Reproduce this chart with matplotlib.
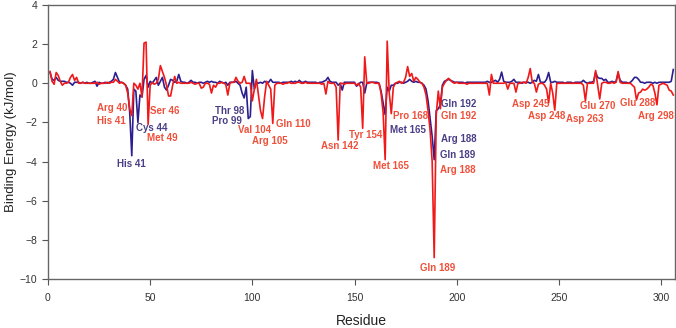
import numpy as np
import matplotlib.pyplot as plt

plt.rcParams['font.family'] = ['Liberation Sans', 'DejaVu Sans']

# residues 1..306
residue = np.arange(1, 307)

# blue series (per residue energy, kJ/mol)
blue = [
    0.55, 0.2, 0.15, 0.3, 0.15, 0.1, 0.1, 0.1, 0.05, 0.05,
    0.0, -0.1, 0.05, 0.05, 0.05, 0.0, 0.05, 0.0, 0.05, 0.0,
    0.0, 0.05, 0.1, -0.15, 0.05, 0.0, 0.0, 0.05, 0.0, 0.05,
    0.1, 0.2, 0.55, 0.3, 0.05, 0.05, 0.0, -0.1, -0.3, -1.5,
    -3.7, -0.3, -0.4, -2.0, -0.6, -0.7, 0.2, 0.4, -0.2, 0.1,
    0.0, 0.15, 0.3, -0.1, 0.1, 0.3, -0.2, -0.35, -0.1, 0.2,
    0.15, 0.05, 0.1, 0.45, 0.1, 0.05, 0.05, 0.0, 0.05, 0.15,
    0.05, 0.05, 0.0, 0.05, 0.05, 0.0, 0.05, 0.1, 0.05, 0.1,
    0.05, 0.05, 0.0, 0.1, 0.05, 0.0, 0.05, -0.1, 0.05, 0.05,
    0.05, 0.1, 0.0, -0.1, -0.5, -0.75, -0.2, -1.8, -1.7, 0.65,
    -0.3, 0.05, 0.0, 0.05, 0.0, 0.1, 0.05, 0.05, 0.2, 0.05,
    0.05, 0.05, 0.05, 0.0, 0.05, 0.05, 0.05, 0.05, 0.1, 0.05,
    0.1, 0.05, 0.15, 0.05, 0.05, 0.1, 0.05, 0.05, 0.05, 0.05,
    0.05, 0.0, 0.05, 0.05, 0.1, 0.15, 0.3, 0.1, 0.05, 0.05,
    0.05, -0.1, 0.0, -0.35, 0.05, 0.05, 0.05, 0.05, 0.05, 0.05,
    -0.15, -0.05, 0.05, 0.05, -0.5, 0.0, 0.05, 0.05, 0.05, 0.05,
    0.05, 0.0, -0.4, -1.0, -1.6, -0.2, -0.4, -0.1, -0.1, 0.0,
    0.0, 0.05, 0.05, 0.0, 0.05, 0.1, 0.2, 0.1, 0.05, 0.1,
    0.05, 0.05, 0.0, -0.1, -0.3, -0.9, -1.8, -2.7, -3.9, -1.4,
    -1.3, -1.1, -0.1, 0.1, 0.15, 0.2, 0.15, 0.1, 0.05, 0.05,
    0.05, 0.05, 0.05, 0.0, 0.05, 0.05, 0.05, 0.05, 0.05, 0.05,
    0.05, 0.05, 0.05, 0.05, 0.1, 0.05, 0.05, 0.1, 0.15, 0.05,
    0.2, 0.57, 0.1, 0.05, 0.05, 0.05, 0.1, 0.2, 0.05, 0.05,
    0.05, 0.0, 0.05, 0.05, 0.05, 0.0, 0.05, 0.15, 0.1, 0.45,
    0.05, 0.05, 0.05, 0.2, 0.55, 0.05, 0.05, 0.1, 0.05, 0.05,
    0.05, 0.05, 0.0, 0.05, 0.05, 0.05, 0.0, 0.05, 0.05, 0.05,
    0.05, 0.15, 0.05, 0.0, 0.05, 0.05, 0.1, 0.55, 0.3, 0.25,
    0.25, 0.15, 0.2, 0.05, 0.05, 0.1, 0.05, 0.1, 0.5, 0.15,
    0.05, 0.05, 0.05, 0.0, 0.05, 0.15, 0.3, 0.3, 0.2, 0.05,
    0.05, 0.0, 0.05, 0.05, 0.05, 0.0, 0.05, 0.0, 0.05, 0.05,
    0.05, 0.05, 0.05, 0.05, 0.1, 0.7,
]

# red series
red = [
    0.6, 0.1, -0.05, 0.55, 0.4, 0.1, -0.1, 0.0, 0.0, 0.05,
    0.3, 0.45, 0.15, 0.3, 0.0, 0.0, 0.05, 0.0, 0.0, 0.0,
    0.0, 0.0, 0.0, 0.05, -0.05, 0.0, 0.0, 0.0, 0.05, 0.0,
    0.05, 0.05, 0.2, 0.1, 0.0, 0.05, 0.0, -0.1, -0.5, -1.3,
    -1.65, 0.0, -0.1, -0.3, 0.0, -0.7, 2.05, 2.1, -2.1, -0.1,
    0.05, -0.05, 0.0, 0.2, 0.9, 0.6, 0.3, -0.1, -0.65, -0.65,
    -0.1, 0.35, 0.0, 0.05, 0.0, 0.0, 0.0, 0.0, 0.0, 0.05,
    0.0, -0.05, 0.0, 0.0, -0.25, -0.2, 0.0, 0.0, -0.05, -0.5,
    -0.1, -0.2, 0.0, 0.0, 0.05, 0.0, -0.05, -0.6, 0.0, 0.05,
    0.05, 0.3, 0.1, 0.0, 0.05, 0.35, 0.0, 0.0, 0.0, -0.9,
    -0.3, 0.2, -0.6, -1.4, -1.8, -0.7, 0.1, -0.1, -0.3, -2.05,
    -0.1, 0.0, 0.0, 0.0, -0.05, 0.0, 0.0, 0.05, 0.0, 0.0,
    0.0, 0.05, 0.05, 0.0, 0.0, 0.05, 0.0, 0.0, 0.0, 0.0,
    0.0, 0.0, 0.0, -0.05, 0.0, -0.55, 0.1, 0.0, 0.0, 0.0,
    -0.2, -2.9, 0.0, 0.0, -0.05, 0.0, 0.0, 0.0, 0.0, 0.0,
    -0.1, 0.0, -0.2, -2.3, 1.35, 0.0, 0.0, 0.05, 0.05, 0.0,
    0.0, 0.0, -0.5, -1.5, -3.9, 2.15, -0.5, -1.55, -0.2, 0.0,
    0.05, 0.1, 0.0, 0.05, 0.3, 0.85, 0.35, 0.5, 0.1, 0.3,
    0.2, 0.05, 0.0, -0.2, -0.6, -1.4, -2.4, -4.0, -8.9, -1.6,
    -0.4, -1.3, -0.2, 0.0, 0.15, 0.25, 0.15, 0.05, 0.0, 0.05,
    0.0, 0.0, 0.0, 0.0, -0.05, 0.0, 0.0, 0.0, 0.0, 0.0,
    0.0, 0.0, 0.0, 0.0, 0.0, -0.6, 0.45, 0.0, 0.0, 0.0,
    0.0, 0.0, 0.0, 0.05, -0.3, 0.0, 0.0, 0.0, -0.45, 0.0,
    0.0, 0.05, 0.05, 0.0, 0.3, 0.75, 0.05, 0.0, -0.45, -0.05,
    0.0, 0.0, -0.1, -0.3, -1.0, 0.0, -0.5, -1.37, 0.0, 0.0,
    0.0, 0.0, 0.0, 0.0, 0.0, 0.0, 0.0, 0.0, 0.0, 0.0,
    0.0, -0.1, -0.9, 0.0, 0.0, 0.0, 0.0, 0.65, -0.1, -0.8,
    0.0, 0.05, 0.05, 0.0, 0.0, 0.05, 0.0, 0.05, 0.6, 0.05,
    0.0, 0.0, 0.0, 0.0, 0.0, -0.1, -0.2, -0.85, -0.5, -0.45,
    -0.3, -0.35, -0.3, -0.2, -0.05, -0.1, -0.5, -1.1, -0.1, -0.05,
    0.0, -0.05, -0.1, -0.35, -0.4, -0.6,
]

# labels: text, x, y, ha
blue_labels = [
    ("His 41", 41, -4.1, "center"),
    ("Cys 44", 43, -2.3, "left"),
    ("Thr 98", 96, -1.43, "right"),
    ("Pro 99", 95, -1.93, "right"),
    ("Met 165", 167.5, -2.4, "left"),
    ("Gln 192", 192.5, -1.07, "left"),
    ("Arg 188", 192.5, -2.87, "left"),
    ("Gln 189", 192, -3.68, "left"),
]
red_labels = [
    ("Arg 40", 38.7, -1.25, "right"),
    ("His 41", 38.2, -1.93, "right"),
    ("Ser 46", 50, -1.43, "left"),
    ("Met 49", 48.5, -2.78, "left"),
    ("Val 104", 109, -2.4, "right"),
    ("Arg 105", 108.5, -2.95, "center"),
    ("Gln 110", 111.7, -2.1, "left"),
    ("Asn 142", 142.8, -3.2, "center"),
    ("Tyr 154", 155.5, -2.65, "center"),
    ("Pro 168", 169, -1.65, "left"),
    ("Met 165", 167.6, -4.23, "center"),
    ("Gln 192", 192.3, -1.65, "left"),
    ("Arg 188", 192, -4.43, "left"),
    ("Gln 189", 190.5, -9.45, "center"),
    ("Asp 245", 236, -1.07, "center"),
    ("Asp 248", 244, -1.65, "center"),
    ("Asp 263", 262.8, -1.82, "center"),
    ("Glu 270", 269, -1.18, "center"),
    ("Glu 288", 288.5, -1.02, "center"),
    ("Arg 298", 297.5, -1.65, "center"),
]

fig = plt.figure(figsize=(6.76, 3.28), dpi=100)
ax = fig.add_axes([0.071, 0.149, 0.928, 0.836])

ax.plot(residue, blue, color="#2b1f8f", lw=1.2)
ax.plot(residue, red, color="#f01818", lw=1.2)

for t, x, y, ha in blue_labels:
    ax.text(x, y, t, color="#4a3f86", fontsize=7, fontweight="bold", ha=ha, va="center")
for t, x, y, ha in red_labels:
    ax.text(x, y, t, color="#f0503a", fontsize=7, fontweight="bold", ha=ha, va="center")

ax.set_xlim(0, 307)
ax.set_ylim(-10, 4)
ax.set_xticks(range(0, 301, 50))
ax.set_yticks(range(-10, 5, 2))
ax.tick_params(direction="out", length=4, width=0.8, color="#555555", labelsize=7.5, labelcolor="#333333")
ax.tick_params(axis="x", pad=6)
for s in ax.spines.values():
    s.set_color("#666666")
    s.set_linewidth(1.0)
ax.set_xlabel("Residue", fontsize=10, color="#222222", labelpad=8)
ax.set_ylabel("Binding Energy (kJ/mol)", fontsize=9.5, color="#222222", labelpad=2)

fig.savefig("out.png", dpi=100)
